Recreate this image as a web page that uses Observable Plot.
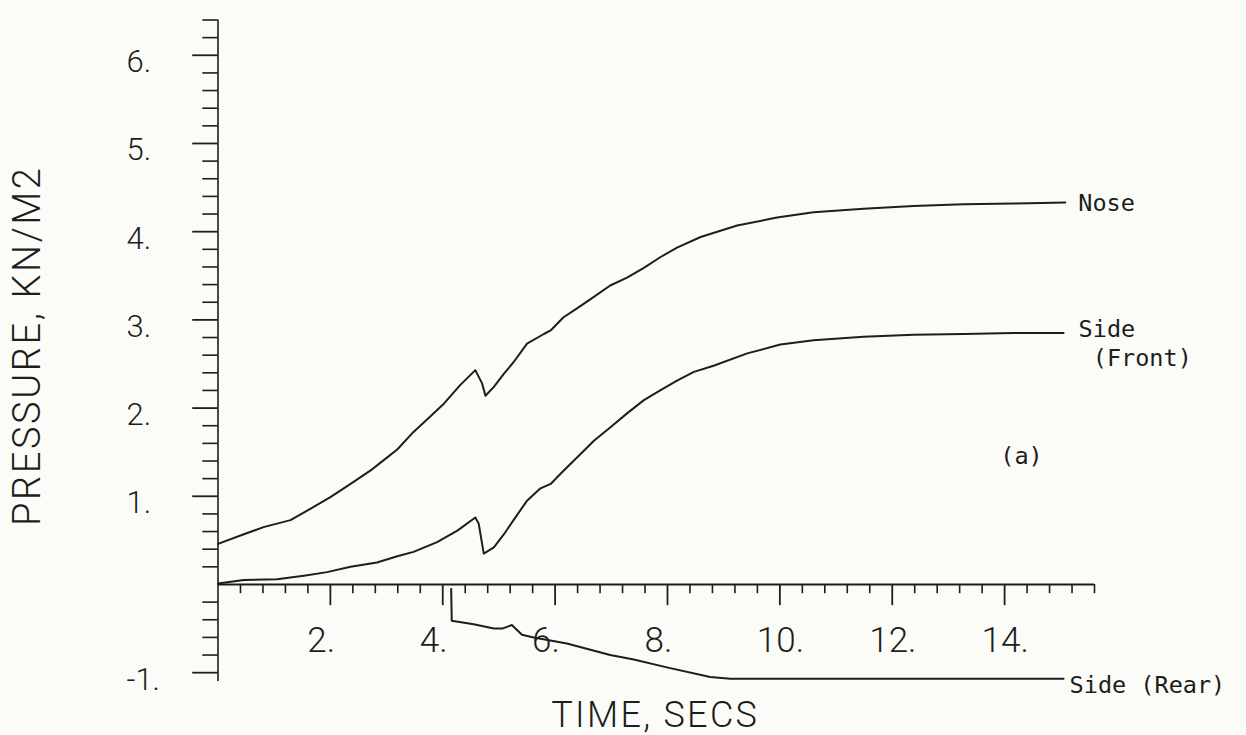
<!DOCTYPE html>
<html>
<head>
<meta charset="utf-8">
<script src="https://cdn.jsdelivr.net/npm/d3@7"></script>
<script src="https://cdn.jsdelivr.net/npm/@observablehq/plot@0.6"></script>
<style>
  html, body { margin: 0; padding: 0; background: #fbfbf8; overflow: hidden; }
  #chart svg { display: block; overflow: visible; }
</style>
</head>
<body>
<div id="chart"></div>
<script>
// ---- data ----
const noseTime  = [0, 0.46, 0.81, 1.29, 1.65, 2.00, 2.36, 2.71, 2.95, 3.19, 3.48, 3.72, 4.02, 4.31, 4.58, 4.70, 4.76, 4.91, 5.09, 5.26, 5.50, 5.80, 5.92, 6.15, 6.39, 6.69, 6.98, 7.28, 7.58, 7.87, 8.17, 8.59, 9.24, 9.95, 10.60, 11.49, 12.38, 13.27, 14.16, 15.08];
const noseValue = [0.46, 0.57, 0.65, 0.73, 0.86, 0.99, 1.14, 1.29, 1.41, 1.53, 1.73, 1.87, 2.05, 2.26, 2.43, 2.28, 2.14, 2.24, 2.39, 2.52, 2.73, 2.84, 2.88, 3.03, 3.13, 3.26, 3.39, 3.48, 3.59, 3.71, 3.82, 3.94, 4.07, 4.16, 4.22, 4.26, 4.29, 4.31, 4.32, 4.33];

const frontTime  = [0, 0.46, 1.05, 1.53, 1.94, 2.36, 2.83, 3.19, 3.48, 3.90, 4.26, 4.58, 4.64, 4.73, 4.91, 5.09, 5.26, 5.50, 5.74, 5.92, 6.15, 6.39, 6.69, 6.98, 7.28, 7.58, 7.87, 8.17, 8.47, 8.82, 9.42, 10.01, 10.60, 11.49, 12.38, 13.27, 14.16, 15.05];
const frontValue = [0.01, 0.05, 0.06, 0.10, 0.14, 0.20, 0.25, 0.32, 0.37, 0.48, 0.61, 0.76, 0.69, 0.35, 0.42, 0.57, 0.73, 0.95, 1.09, 1.14, 1.29, 1.44, 1.63, 1.78, 1.94, 2.09, 2.20, 2.31, 2.41, 2.48, 2.62, 2.72, 2.77, 2.81, 2.83, 2.84, 2.85, 2.85];

const rearTime  = [4.15, 4.16, 4.55, 4.91, 5.06, 5.23, 5.41, 5.62, 6.21, 6.98, 7.40, 7.99, 8.76, 9.12, 10.5, 12.5, 15.05];
const rearValue = [-0.05, -0.41, -0.45, -0.50, -0.50, -0.46, -0.57, -0.60, -0.67, -0.80, -0.85, -0.94, -1.05, -1.07, -1.07, -1.07, -1.07];

const seriesNames = ["Nose", "Side\n (Front)", "Side (Rear)"];
const xTickValues = [2, 4, 6, 8, 10, 12, 14];
const yTickValues = [-1, 1, 2, 3, 4, 5, 6];
const xTitle = "TIME, SECS";
const yTitle = "PRESSURE, KN/M2";
const panelTag = [{t: 14.3, p: 1.45, label: "(a)"}];

// ---- build tables ----
const toRows = (ts, vs) => ts.map((t, i) => ({t, p: vs[i]}));
const nose = toRows(noseTime, noseValue);
const front = toRows(frontTime, frontValue);
const rear = toRows(rearTime, rearValue);
const last = rows => [rows[rows.length - 1]];

const xMinor = d3.range(1, 40).map(i => i * 0.4).filter(v => Math.abs(v / 2 - Math.round(v / 2)) > 1e-6);
const yMinor = d3.range(-5, 33).map(i => i * 0.2).filter(v => Math.abs(v - Math.round(v)) > 1e-6);

const ink = "#1d1d1d";
const numFont = "Roboto, 'Open Sans', sans-serif";
const monoFont = "'DejaVu Sans Mono', 'Liberation Mono', monospace";

const chart = Plot.plot({
  width: 1246,
  height: 735,
  marginLeft: 217.5,
  marginRight: 152,
  marginTop: 19.5,
  marginBottom: 54,
  x: {domain: [0, 15.6], axis: null},
  y: {domain: [-1.1, 6.4], axis: null},
  style: {background: "transparent", color: ink, overflow: "visible"},
  marks: [
    // axes lines
    Plot.ruleY([0], {stroke: ink, strokeWidth: 2}),
    Plot.ruleX([0], {stroke: ink, strokeWidth: 1.6}),
    // x ticks
    Plot.ruleX(xMinor, {x: d => d, y1: 0, y2: -0.105, stroke: ink, strokeWidth: 1.6}),
    Plot.ruleX(xTickValues, {x: d => d, y1: 0, y2: -0.24, stroke: ink, strokeWidth: 1.8}),
    // y ticks
    Plot.ruleY(yMinor, {y: d => d, x1: -0.27, x2: 0, stroke: ink, strokeWidth: 1.6}),
    Plot.ruleY(yTickValues, {y: d => d, x1: -0.45, x2: 0, stroke: ink, strokeWidth: 1.8}),
    // tick labels
    Plot.text(xTickValues, {x: d => d, y: 0, text: d => `${d}.`, dy: 56, dx: -23, textAnchor: "start",
      fontSize: 35, fontWeight: 300, fontFamily: numFont, fill: ink}),
    Plot.text(yTickValues, {y: d => d, frameAnchor: "left", text: d => `${d}.`, dx: -91.5, dy: 7, textAnchor: "start",
      fontSize: 31, fontWeight: 300, fontFamily: numFont, fill: ink}),
    // axis titles
    Plot.text([xTitle], {frameAnchor: "bottom", text: d => d, dx: -1, dy: 34, textAnchor: "middle", lineAnchor: "middle",
      fontSize: 36, fontWeight: 300, fontFamily: numFont, fill: ink}),
    Plot.text([yTitle], {frameAnchor: "left", text: d => d, dx: -190, dy: -5, rotate: -90, textAnchor: "middle", lineAnchor: "middle",
      fontSize: 38, fontWeight: 300, fontFamily: numFont, fill: ink}),
    // curves
    Plot.line(nose, {x: "t", y: "p", stroke: ink, strokeWidth: 2, curve: "linear"}),
    Plot.line(front, {x: "t", y: "p", stroke: ink, strokeWidth: 2, curve: "linear"}),
    Plot.line(rear, {x: "t", y: "p", stroke: ink, strokeWidth: 2, curve: "linear"}),
    // series labels at the line ends
    Plot.text(last(nose), {x: "t", y: "p", text: () => seriesNames[0], dx: 13, dy: 1, textAnchor: "start",
      fontSize: 23.5, fontFamily: monoFont, fill: ink}),
    Plot.text(last(front), {x: "t", y: "p", text: () => seriesNames[1], dx: 15, dy: 9, textAnchor: "start",
      lineHeight: 1.25, fontSize: 23.5, fontFamily: monoFont, fill: ink}),
    Plot.text(last(rear), {x: "t", y: "p", text: () => seriesNames[2], dx: 6, dy: 7, textAnchor: "start",
      fontSize: 23.5, fontFamily: monoFont, fill: ink}),
    Plot.text(panelTag, {x: "t", y: "p", text: "label", fontSize: 23.5, fontFamily: monoFont, fill: ink})
  ]
});
// widen the plotter-style axis titles a little
d3.select(chart).selectAll("text").each(function() {
  const s = this.textContent;
  if (s === xTitle) this.setAttribute("letter-spacing", "2.3");
  if (s === yTitle) this.setAttribute("letter-spacing", "2.6");
});
document.getElementById("chart").appendChild(chart);
</script>
</body>
</html>
